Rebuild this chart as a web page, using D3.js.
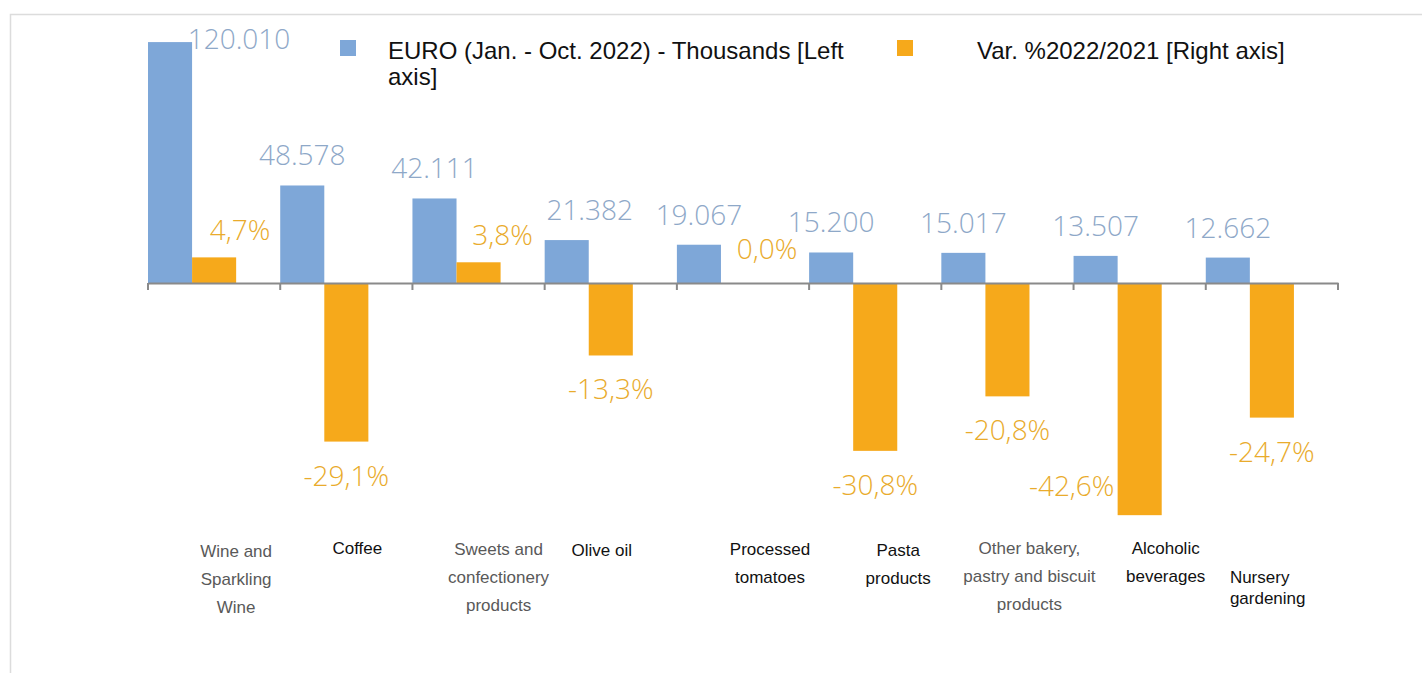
<!DOCTYPE html>
<html>
<head>
<meta charset="utf-8">
<script src="https://cdn.jsdelivr.net/npm/d3@7"></script>
<style>
  html, body { margin: 0; padding: 0; background: #fff; }
  svg { display: block; }
</style>
</head>
<body>
<svg id="chart" width="1422" height="673"></svg>
<script>
// Export categories and their values
const categories = [
  "Wine and Sparkling Wine", "Coffee", "Sweets and confectionery products",
  "Olive oil", "Processed tomatoes", "Pasta products",
  "Other bakery, pastry and biscuit products", "Alcoholic beverages", "Nursery gardening"
];
// Label lines for each category (as wrapped under the axis)
const categoryLines = [
  ["Wine and", "Sparkling", "Wine"],
  ["Coffee"],
  ["Sweets and", "confectionery", "products"],
  ["Olive oil"],
  ["Processed", "tomatoes"],
  ["Pasta", "products"],
  ["Other bakery,", "pastry and biscuit", "products"],
  ["Alcoholic", "beverages"],
  ["Nursery", "gardening"]
];
// EURO (Jan. - Oct. 2022), thousands
const euroValues = [120010, 48578, 42111, 21382, 19067, 15200, 15017, 13507, 12662];
// Var. % 2022/2021
const varValues = [4.7, -29.1, 3.8, -13.3, 0.0, -30.8, -20.8, -42.6, -24.7];
const seriesNames = ["EURO (Jan. - Oct. 2022) - Thousands [Left axis]", "Var. %2022/2021 [Right axis]"];

const BLUE = "#7ea7d8";
const ORANGE = "#f6a91b";
const BLUE_TEXT = "#8ea8c8";
const ORANGE_TEXT = "#e9ab2c";

const svg = d3.select("#chart");

// outer frame
svg.append("rect")
  .attr("x", 10.5).attr("y", 14.5)
  .attr("width", 1440).attr("height", 700)
  .attr("fill", "none").attr("stroke", "#dcdcdc").attr("stroke-width", 1.5);

const x0 = d3.scaleBand().domain(categories).range([148, 1338]).padding(0);
const x1 = d3.scaleBand().domain(["euro", "var"]).range([0, x0.bandwidth() * 2 / 3]).padding(0);
const yL = d3.scaleLinear().domain([0, 135000]).range([283, 12]);
const yR = d3.scaleLinear().domain([-50, 0]).range([555.5, 283]);

// thousands shown with a dot separator, percentages with a decimal comma
const fmtEuroLabel = v => {
  const s = String(v);
  return s.slice(0, s.length - 3) + "." + s.slice(-3);
};
const fmtVar = v => d3.format(".1f")(v).replace("\u2212", "-").replace(".", ",") + "%";

// per-label nudges where labels would collide with neighbours
const euroNudge = { 0: { dx: 69, place: "side" }, 3: { dx: 23 } };
const varNudge = { 0: { dx: 26 }, 2: { dx: 24 }, 4: { dx: 24 }, 7: { dx: -68, place: "side" } };

const g = svg.append("g");

// bars
const groups = g.selectAll("g.cat").data(categories).join("g")
  .attr("class", "cat")
  .attr("transform", d => `translate(${x0(d)},0)`);

groups.append("rect")
  .attr("x", x1("euro"))
  .attr("width", x1.bandwidth())
  .attr("y", (d, i) => yL(euroValues[i]))
  .attr("height", (d, i) => yL(0) - yL(euroValues[i]))
  .attr("fill", BLUE);

groups.append("rect")
  .attr("x", x1("var"))
  .attr("width", x1.bandwidth())
  .attr("y", (d, i) => varValues[i] >= 0 ? yR(varValues[i]) : yR(0))
  .attr("height", (d, i) => Math.abs(yR(varValues[i]) - yR(0)))
  .attr("fill", ORANGE);

// category axis
const axis = d3.axisBottom(x0).tickSize(0).tickFormat("");
const axG = svg.append("g").attr("transform", `translate(0,${yR(0)})`).call(axis);
axG.select(".domain").attr("stroke", "#8a8a8a").attr("stroke-width", 2);
const bounds = categories.map(c => x0(c)).concat([x0.range()[1]]);
axG.selectAll("line.sep").data(bounds).join("line")
  .attr("class", "sep")
  .attr("x1", d => d).attr("x2", d => d)
  .attr("y1", 0).attr("y2", 7)
  .attr("stroke", "#8a8a8a").attr("stroke-width", 2);

// EURO value labels
groups.append("text")
  .attr("x", (d, i) => x1("euro") + x1.bandwidth() / 2 + ((euroNudge[i] || {}).dx || 0))
  .attr("y", (d, i) => (euroNudge[i] || {}).place === "side" ? yL(euroValues[i]) + 7 : yL(euroValues[i]) - 20)
  .attr("text-anchor", "middle")
  .attr("font-family", "'Open Sans', sans-serif")
  .attr("font-weight", 300)
  .attr("font-size", 28)
  .attr("fill", BLUE_TEXT)
  .text((d, i) => fmtEuroLabel(euroValues[i]));

// Var % labels
groups.append("text")
  .attr("x", (d, i) => x1("var") + x1.bandwidth() / 2 + ((varNudge[i] || {}).dx || 0))
  .attr("y", (d, i) => {
    const v = varValues[i];
    const n = varNudge[i] || {};
    if (n.place === "side") return yR(v) - 19;
    if (v > 0) return yR(v) - 17;
    if (v === 0) return yR(v) - 24;
    return yR(v) + 44;
  })
  .attr("text-anchor", "middle")
  .attr("font-family", "'Open Sans', sans-serif")
  .attr("font-weight", 300)
  .attr("font-size", 28)
  .attr("fill", ORANGE_TEXT)
  .text((d, i) => fmtVar(varValues[i]));

// category labels under the chart
const catLayout = [
  { dx: 22, y: 557, lh: 28, c: "#595959", a: "middle" },
  { dx: 11, y: 554, lh: 28, c: "#111", a: "middle" },
  { dx: 20, y: 555, lh: 28, c: "#595959", a: "middle" },
  { dx: -9, y: 556, lh: 28, c: "#111", a: "middle" },
  { dx: 27, y: 555, lh: 28, c: "#111", a: "middle" },
  { dx: 23, y: 556, lh: 28, c: "#111", a: "middle" },
  { dx: 22, y: 554, lh: 28, c: "#595959", a: "middle" },
  { dx: 26, y: 554, lh: 28, c: "#111", a: "middle" },
  { dx: -42, y: 583, lh: 21, c: "#111", a: "start" }
];
svg.append("g").selectAll("text").data(categories).join("text")
  .attr("x", (d, i) => x0(d) + x0.bandwidth() / 2 + catLayout[i].dx)
  .attr("y", (d, i) => catLayout[i].y)
  .attr("text-anchor", (d, i) => catLayout[i].a)
  .attr("font-family", "'Liberation Sans', Arial, sans-serif")
  .attr("font-size", 17)
  .attr("fill", (d, i) => catLayout[i].c)
  .each(function (d, i) {
    d3.select(this).selectAll("tspan").data(categoryLines[i]).join("tspan")
      .attr("x", x0(d) + x0.bandwidth() / 2 + catLayout[i].dx)
      .attr("dy", (t, j) => j === 0 ? 0 : catLayout[i].lh)
      .text(t => t);
  });

// legend
const legend = svg.append("g").attr("font-family", "'Liberation Sans', Arial, sans-serif")
  .attr("font-size", 24).attr("fill", "#111");
legend.append("rect").attr("x", 340).attr("y", 40).attr("width", 16).attr("height", 16).attr("fill", BLUE);
legend.append("text").attr("x", 388).attr("y", 59)
  .call(t => {
    t.append("tspan").attr("x", 388).text("EURO (Jan. - Oct. 2022) - Thousands [Left");
    t.append("tspan").attr("x", 388).attr("dy", 26).text("axis]");
  });
legend.append("rect").attr("x", 897).attr("y", 40).attr("width", 16).attr("height", 16).attr("fill", ORANGE);
legend.append("text").attr("x", 977).attr("y", 59).text(seriesNames[1]);
</script>
</body>
</html>
